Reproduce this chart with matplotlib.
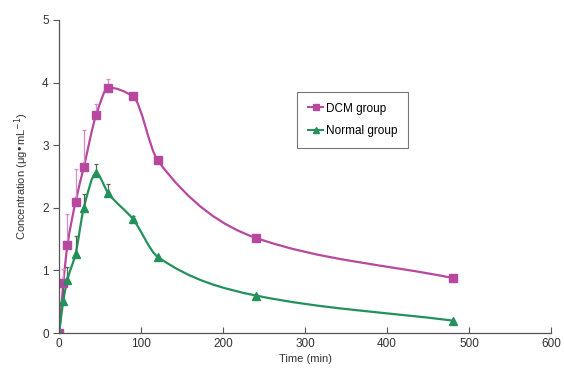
import matplotlib.pyplot as plt
import numpy as np
from matplotlib.path import Path
from matplotlib.patches import PathPatch

plt.rcParams['font.family'] = ['Liberation Sans', 'DejaVu Sans']

# sampling times (min)
time = [0, 5, 10, 20, 30, 45, 60, 90, 120, 240, 480]

dcm = [0, 0.80, 1.40, 2.10, 2.65, 3.48, 3.92, 3.78, 2.76, 1.52, 0.88]
dcm_err = [0, 0.22, 0.50, 0.52, 0.60, 0.17, 0.13, 0, 0, 0, 0]

normal = [0, 0.52, 0.85, 1.27, 2.00, 2.55, 2.23, 1.82, 1.22, 0.60, 0.20]
normal_err = [0, 0.28, 0.20, 0.28, 0.22, 0.15, 0.15, 0.05, 0, 0, 0]

dcm_color = '#b8479f'
normal_color = '#23915a'


def smooth_path(x, y):
    # smoothed line through the points (monotone cubic, as bezier segments)
    x = np.asarray(x, float)
    y = np.asarray(y, float)
    h = np.diff(x)
    d = np.diff(y) / h
    n = len(x)
    m = np.zeros(n)
    m[0] = d[0]
    m[-1] = d[-1]
    for i in range(1, n - 1):
        if d[i - 1] * d[i] <= 0:
            m[i] = 0
        else:
            w1 = 2 * h[i] + h[i - 1]
            w2 = h[i] + 2 * h[i - 1]
            m[i] = (w1 + w2) / (w1 / d[i - 1] + w2 / d[i])
    verts = [(x[0], y[0])]
    codes = [Path.MOVETO]
    for i in range(n - 1):
        verts += [(x[i] + h[i] / 3, y[i] + m[i] * h[i] / 3),
                  (x[i + 1] - h[i] / 3, y[i + 1] - m[i + 1] * h[i] / 3),
                  (x[i + 1], y[i + 1])]
        codes += [Path.CURVE4] * 3
    return Path(verts, codes)


fig = plt.figure(figsize=(5.64, 3.76), dpi=100)
ax = fig.add_axes([0.105, 0.114, 0.872, 0.833])

ax.errorbar(time, dcm, yerr=[np.zeros(len(dcm)), dcm_err], fmt='none',
            ecolor='#d88cc6', elinewidth=0.9, capsize=1.5, capthick=0.9)
ax.errorbar(time, normal, yerr=[np.zeros(len(normal)), normal_err], fmt='none',
            ecolor='#4a6a58', elinewidth=0.9, capsize=1.5, capthick=0.9)

ax.add_patch(PathPatch(smooth_path(time, dcm), fill=False, ec=dcm_color, lw=1.6))
ax.add_patch(PathPatch(smooth_path(time, normal), fill=False, ec=normal_color, lw=1.6))

ax.plot(time, dcm, ls='none', marker='s', ms=5.5, color=dcm_color)
ax.plot(time, normal, ls='none', marker='^', ms=5.5, color=normal_color)

# legend handles
ax.plot([], [], color=dcm_color, marker='s', ms=4.5, lw=1.4, label='DCM group')
ax.plot([], [], color=normal_color, marker='^', ms=4.5, lw=1.4, label='Normal group')
h, l = ax.get_legend_handles_labels()
leg = ax.legend(h[-2:], l[-2:], loc='upper left', bbox_to_anchor=(0.484, 0.77),
                frameon=True, fancybox=False, fontsize=8.5, handlelength=1.3,
                handletextpad=0.2, borderpad=0.9, labelspacing=0.9, borderaxespad=0)
leg.get_frame().set_edgecolor('#555555')
leg.get_frame().set_linewidth(0.8)

ax.set_xlim(0, 600)
ax.set_ylim(0, 5)
ax.set_xticks(range(0, 601, 100))
ax.set_yticks(range(0, 6))
ax.spines['top'].set_visible(False)
ax.spines['right'].set_visible(False)
for s in ['left', 'bottom']:
    ax.spines[s].set_color('#555555')
    ax.spines[s].set_linewidth(0.9)
ax.tick_params(axis='x', direction='in', length=4, color='#555555', labelsize=8.5, labelcolor='#333333')
ax.tick_params(axis='y', direction='out', length=4, color='#555555', labelsize=8.5, labelcolor='#333333')

ax.set_xlabel('Time (min)', fontsize=8, color='#333333', labelpad=3)
ax.set_ylabel('Concentration (μg•mL$^{-1}$)', fontsize=8, color='#333333', labelpad=8)

fig.savefig('out.png', dpi=100)
